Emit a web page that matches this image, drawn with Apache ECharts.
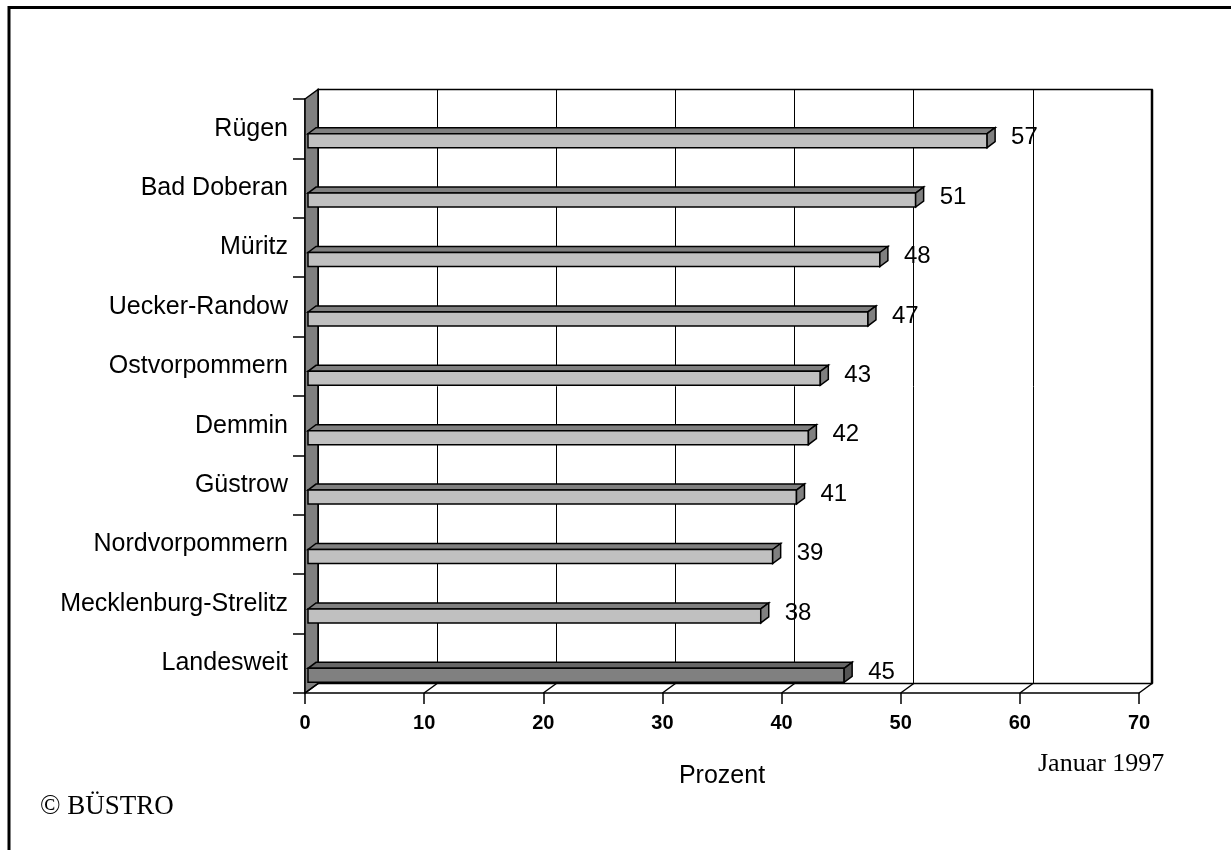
<!DOCTYPE html>
<html>
<head>
<meta charset="utf-8">
<title>Prozent – Januar 1997</title>
<script src="https://cdn.jsdelivr.net/npm/echarts@6/dist/echarts.min.js"></script>
<style>
  html, body { margin: 0; padding: 0; background: #fff; }
  #chart { width: 1231px; height: 850px; }
</style>
</head>
<body>
<div id="chart"></div>
<script>
// Districts, top to bottom; the last row is the state-wide figure
const categories = [
  'Rügen', 'Bad Doberan', 'Müritz', 'Uecker-Randow', 'Ostvorpommern',
  'Demmin', 'Güstrow', 'Nordvorpommern', 'Mecklenburg-Strelitz', 'Landesweit'
];
const values = [57, 51, 48, 47, 43, 42, 41, 39, 38, 45];
const xTicks = [0, 10, 20, 30, 40, 50, 60, 70];
const totalLabel = 'Landesweit';

// Pseudo-3D layout: offset of the back wall against the front plane
const DX = 13, DY = -9.5;
// Bar thickness and bar depth
const FACE = 14, BDX = 8, BDY = -6;
const FRONT = { left: 305, top: 99, right: 92, bottom: 157 };
const SANS = '"Liberation Sans", Arial, sans-serif';
const SERIF = '"Liberation Serif", "Times New Roman", serif';

const chart = echarts.init(document.getElementById('chart'), null, { renderer: 'canvas' });

const barData = values.map((v, i) => [v, i]);
const tickData = xTicks.map(t => [t, 0]);

function renderBar(params, api) {
  const val = api.value(0);
  const cat = api.value(1);
  const base = api.coord([0, cat]);
  const tip = api.coord([val, cat]);
  const x0 = base[0] + 3, x1 = tip[0] + 3;
  const yc = base[1] + 12;
  const yT = yc - FACE / 2, yB = yc + FACE / 2;
  const isTotal = categories[cat] === totalLabel;
  const front = isTotal ? '#808080' : '#c0c0c0';
  const top = isTotal ? '#666666' : '#808080';
  const end = isTotal ? '#555555' : '#808080';
  const stroke = { stroke: '#000', lineWidth: 1.5, lineJoin: 'miter' };
  return {
    type: 'group',
    children: [
      { type: 'polygon', shape: { points: [[x0, yT], [x1, yT], [x1 + BDX, yT + BDY], [x0 + BDX, yT + BDY]] },
        style: Object.assign({ fill: top }, stroke) },
      { type: 'rect', shape: { x: x0, y: yT, width: x1 - x0, height: FACE },
        style: Object.assign({ fill: front }, stroke) },
      { type: 'polygon', shape: { points: [[x1, yT], [x1 + BDX, yT + BDY], [x1 + BDX, yB + BDY], [x1, yB]] },
        style: Object.assign({ fill: end }, stroke) },
      { type: 'text', style: { x: x1 + BDX + 16, y: yc - 3, text: String(val),
          font: '24px ' + SANS, fill: '#000', verticalAlign: 'middle', align: 'left' } }
    ]
  };
}

function renderWalls(params, api) {
  const cs = params.coordSys;
  const bottom = cs.y + cs.height;
  const right = cs.x + cs.width;
  return {
    type: 'group',
    children: [
      // left side wall
      { type: 'polygon', shape: { points: [[cs.x, cs.y], [cs.x + DX, cs.y + DY], [cs.x + DX, bottom + DY], [cs.x, bottom]] },
        style: { fill: '#808080', stroke: '#000', lineWidth: 1.5 } },
      // right edge of the back wall
      { type: 'line', shape: { x1: right + DX, y1: cs.y + DY, x2: right + DX, y2: bottom + DY },
        style: { stroke: '#000', lineWidth: 2.5 } }
    ]
  };
}

function renderFloorTick(params, api) {
  const cs = params.coordSys;
  const bottom = cs.y + cs.height;
  const x = api.coord([api.value(0), 0])[0];
  return { type: 'line', shape: { x1: x, y1: bottom, x2: x + DX, y2: bottom + DY },
           style: { stroke: '#000', lineWidth: 1.5 } };
}

const option = {
  backgroundColor: '#fff',
  animation: false,
  grid: [
    { left: FRONT.left, top: FRONT.top, right: FRONT.right, bottom: FRONT.bottom },
    { left: FRONT.left + DX, top: FRONT.top + DY, right: FRONT.right - DX, bottom: FRONT.bottom - DY,
      show: true, borderColor: '#000', borderWidth: 1.5, backgroundColor: 'transparent' }
  ],
  xAxis: [
    { type: 'value', gridIndex: 0, min: 0, max: 70, interval: 10,
      name: 'Prozent', nameLocation: 'middle', nameGap: 71,
      nameTextStyle: { fontFamily: SANS, fontSize: 25, color: '#000' },
      axisLine: { show: true, lineStyle: { color: '#000', width: 1.5 } },
      axisTick: { show: true, length: 11, lineStyle: { color: '#000', width: 1.5 } },
      axisLabel: { margin: 20, fontFamily: SANS, fontSize: 20, fontWeight: 'bold', color: '#000',
        customValues: xTicks },
      splitLine: { show: false } },
    { type: 'value', gridIndex: 1, min: 0, max: 70, interval: 10,
      axisLine: { show: false }, axisTick: { show: false }, axisLabel: { show: false },
      splitLine: { show: true, lineStyle: { color: '#000', width: 1 } } }
  ],
  yAxis: [
    { type: 'category', gridIndex: 0, data: categories, inverse: true,
      axisLine: { show: true, lineStyle: { color: '#000', width: 1.5 } },
      axisTick: { show: true, length: 12, lineStyle: { color: '#000', width: 1.5 } },
      axisLabel: { margin: 17, fontFamily: SANS, fontSize: 25, color: '#000' },
      splitLine: { show: false } },
    { type: 'category', gridIndex: 1, data: categories, inverse: true, show: false }
  ],
  series: [
    { type: 'custom', name: 'walls', xAxisIndex: 0, yAxisIndex: 0, z: 3,
      data: [[0, 0]], renderItem: renderWalls, silent: true },
    { type: 'custom', name: 'floor', xAxisIndex: 0, yAxisIndex: 0, z: 3,
      data: tickData, renderItem: renderFloorTick, silent: true },
    { type: 'custom', name: 'Prozent', xAxisIndex: 0, yAxisIndex: 0, z: 4,
      encode: { x: 0, y: 1 }, data: barData, renderItem: renderBar }
  ],
  graphic: [
    { type: 'polyline', shape: { points: [[9, 860], [9, 7.5], [1240, 7.5]] },
      style: { stroke: '#000', lineWidth: 3, fill: null }, silent: true },
    { type: 'text', left: 1038, top: 751,
      style: { text: 'Januar 1997', font: '26px ' + SERIF, fill: '#000' } },
    { type: 'text', left: 40, top: 793,
      style: { text: '© BÜSTRO', font: '27px ' + SERIF, fill: '#000' } }
  ]
};

chart.setOption(option);
</script>
</body>
</html>
